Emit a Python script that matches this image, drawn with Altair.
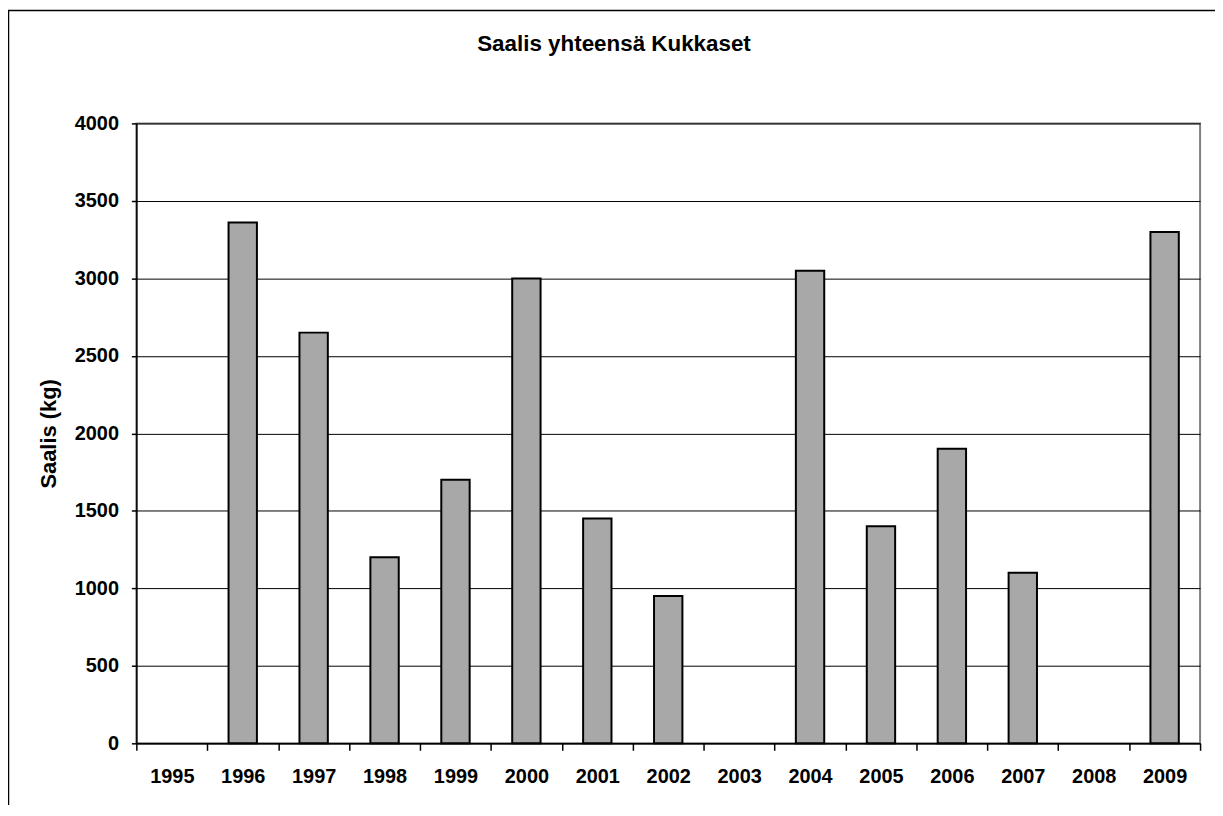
import altair as alt
import pandas as pd

# Data
years = [str(y) for y in range(1995, 2010)]
catch_kg = [0, 3360, 2650, 1200, 1700, 3000, 1450, 950, 0, 3050, 1400, 1900, 1100, 0, 3300]
y_ticks = [0, 500, 1000, 1500, 2000, 2500, 3000, 3500, 4000]
title_text = ["Saalis yhteensä Kukkaset"]

df = pd.DataFrame({"Vuosi": years, "Saalis": catch_kg})
FONT = "Liberation Sans"

x_enc = alt.X(
    "Vuosi:O",
    sort=years,
    scale=alt.Scale(domain=years, paddingInner=0, paddingOuter=0),
    axis=alt.Axis(
        title=None,
        labelAngle=0,
        tickBand="extent",
        tickSize=7,
        labelFontSize=20,
        labelFont=FONT,
        labelFontWeight="bold",
        labelColor="black",
        labelPadding=16,
        domainColor="black",
        domainWidth=1.5,
        tickColor="black",
        tickWidth=1.5,
        grid=False,
    ),
)

y_enc = alt.Y(
    "Saalis:Q",
    scale=alt.Scale(domain=[0, 4000], nice=False),
    axis=alt.Axis(
        title="Saalis (kg)",
        values=y_ticks,
        format="d",
        tickSize=5,
        labelFontSize=20,
        labelFont=FONT,
        labelFontWeight="bold",
        labelColor="black",
        labelPadding=13,
        titleFontSize=22,
        titleFont=FONT,
        titleFontWeight="bold",
        titleColor="black",
        titlePadding=14,
        domainColor="black",
        domainWidth=1.5,
        tickColor="black",
        tickWidth=1.5,
        grid=True,
        gridColor="black",
        gridWidth=1,
    ),
)

bars = alt.Chart(df).transform_filter("datum.Saalis > 0").mark_bar(
    width=alt.RelativeBandSize(0.4),
    fill="#a8a8a8",
    stroke="black",
    strokeWidth=2,
).encode(x=x_enc, y=y_enc)

frame = alt.Chart(alt.Data(values=[{"k": 1}])).mark_rect(
    filled=False, stroke="black", strokeWidth=1.5
).encode(
    x=alt.value(-128.5), x2=alt.value(1300), y=alt.value(-113.5), y2=alt.value(900)
)

title = alt.Chart(pd.DataFrame({"t": title_text})).mark_text(
    font=FONT,
    fontSize=22.5,
    fontWeight="bold",
    color="black",
    align="center",
    baseline="alphabetic",
).encode(text="t:N", x=alt.value(480), y=alt.value(-73))

chart = alt.layer(bars, frame, title).properties(
    width=1069,
    height=623,
    autosize=alt.AutoSizeParams(type="none"),
    padding={"left": 129, "top": 114, "right": 15, "bottom": 60},
    background="white",
).configure_view(stroke="#808080", strokeWidth=2)

chart.save("out.html", embed_options={"renderer": "svg", "actions": False})
